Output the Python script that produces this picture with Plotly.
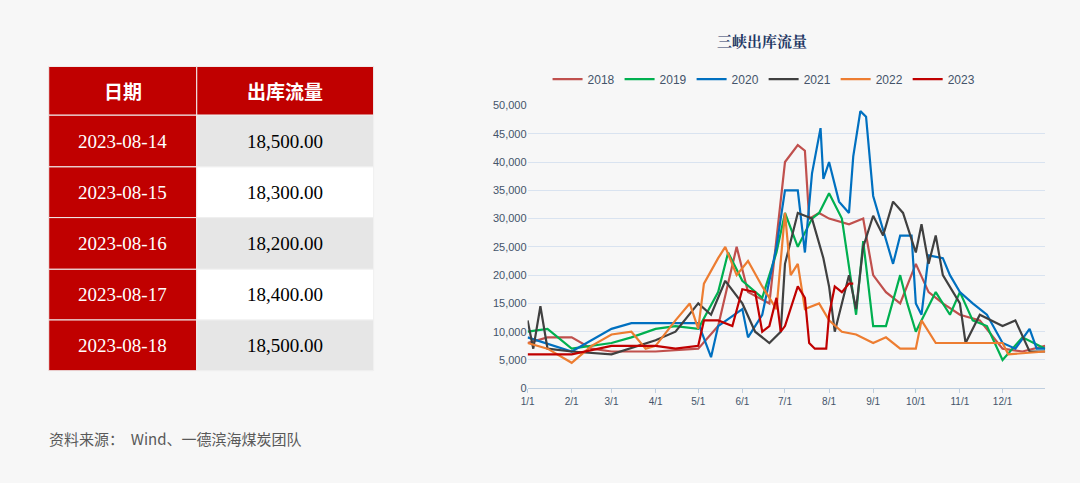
import plotly.graph_objects as go

dates = ['2023-08-14', '2023-08-15', '2023-08-16', '2023-08-17', '2023-08-18']
flows = ['18,500.00', '18,300.00', '18,200.00', '18,400.00', '18,500.00']
headers = ['日期', '出库流量']

s2018_x = ['01-01','01-15','02-01','02-15','03-01','04-01','05-01','05-15','05-28','06-05','06-20','07-01','07-10','07-15','07-18','07-25','08-01','08-15','08-25','09-01','09-10','09-20','10-01','10-10','10-20','11-01','11-15','12-01','12-15','12-31']
s2018_y = [8000,9000,9000,7000,6500,6500,7000,11000,25000,17000,15000,40000,43000,42000,30000,31000,30000,29000,30000,20000,17000,15000,22000,17000,15000,13000,12000,7000,6500,7500]

s2019_x = ['01-01','01-15','02-01','03-01','03-15','04-01','04-15','05-01','05-15','05-22','06-01','06-15','06-25','07-01','07-10','07-20','07-25','08-01','08-10','08-20','08-25','09-01','09-10','09-20','09-25','10-01','10-15','10-25','11-01','11-10','11-20','12-01','12-15','12-31']
s2019_y = [10000,10500,7000,8000,9000,10500,11000,10500,17000,24000,19000,16000,24000,31000,25000,30000,31000,34500,30000,13000,26000,11000,11000,20000,15000,10000,17000,13000,17000,12000,11000,5000,9000,7000]

s2020_x = ['01-01','02-01','03-01','03-15','04-01','05-01','05-10','05-15','06-01','06-05','06-15','06-25','07-01','07-10','07-15','07-20','07-26','07-28','08-01','08-08','08-15','08-18','08-23','08-27','09-01','09-08','09-15','09-20','09-28','10-01','10-05','10-10','10-20','10-25','11-01','11-10','11-20','12-01','12-10','12-20','12-25','12-31']
s2020_y = [9000,6500,10500,11500,11500,11500,5500,11000,14000,9000,13000,25000,35000,35000,24000,38000,46000,37000,40000,33000,31000,41000,49000,48000,34000,28000,22000,27000,27000,15000,13000,23500,23000,20000,17000,15000,13000,8000,7000,10500,7000,7000]

s2021_x = ['01-01','01-05','01-10','01-15','02-01','03-01','04-01','04-15','05-01','05-10','05-20','06-01','06-10','06-20','06-28','07-01','07-10','07-20','07-28','08-01','08-05','08-15','08-20','08-25','09-01','09-08','09-15','09-22','10-01','10-05','10-10','10-15','10-20','11-01','11-05','11-15','12-01','12-10','12-20','12-31']
s2021_y = [12000,7000,14500,7000,6500,6000,8500,10000,15000,13000,19000,15000,10000,8000,10000,22000,31000,30000,23000,18000,10000,20000,14000,25000,30500,27000,33000,31000,24000,29000,22000,27000,20000,15000,8000,13000,11000,12000,6500,6500]

s2022_x = ['01-01','01-15','02-01','02-15','03-01','03-15','03-25','04-01','04-15','04-25','05-01','05-05','05-15','05-20','05-28','06-05','06-15','06-25','07-01','07-05','07-10','07-15','07-25','08-01','08-10','08-20','09-01','09-10','09-20','10-01','10-05','10-15','11-01','12-01','12-05','12-31']
s2022_y = [8000,7000,4500,7500,9500,10000,7000,7500,12000,15000,10500,18500,23000,25000,20000,22500,18000,14000,31000,20000,22000,14000,15000,12000,10000,9500,8000,9000,7000,7000,12000,8000,8000,8000,6000,6500]

s2023_x = ['01-01','02-01','03-01','04-01','04-15','05-01','05-05','05-15','05-25','06-01','06-10','06-15','06-20','06-25','06-28','07-01','07-10','07-15','07-18','07-22','07-30','08-01','08-05','08-10','08-15','08-18']
s2023_y = [6000,6000,7500,7500,7000,7500,12000,12000,11000,17500,17000,10000,11000,16000,10000,11000,18000,16000,8000,7000,7000,13000,18000,17000,18500,18500]

series = [
    ('2018', s2018_x, s2018_y, '#c0504d'),
    ('2019', s2019_x, s2019_y, '#00b050'),
    ('2020', s2020_x, s2020_y, '#0070c0'),
    ('2021', s2021_x, s2021_y, '#404040'),
    ('2022', s2022_x, s2022_y, '#ed7d31'),
    ('2023', s2023_x, s2023_y, '#c00000'),
]

fig = go.Figure()

for name, xs, ys, c in series:
    fig.add_trace(go.Scatter(x=['2023-' + d for d in xs], y=ys, name=name, mode='lines',
                             line=dict(color=c, width=2.2)))

# table drawn with shapes + text
W, H = 1080, 483
col_x = [42, 191, 369]
row_y = [62, 112, 165, 217, 270, 322, 374]
shapes, annos = [], []

def px(x): return x / W
def py(y): return 1 - y / H

for r in range(6):
    for c in range(2):
        if r == 0 or c == 0:
            fill = '#c00000'
        else:
            fill = '#e6e6e6' if r % 2 == 1 else '#ffffff'
        shapes.append(dict(type='rect', xref='paper', yref='paper',
                           x0=px(col_x[c]), x1=px(col_x[c + 1]),
                           y0=py(row_y[r + 1]), y1=py(row_y[r]),
                           fillcolor=fill, line=dict(color='#f0f0f0', width=1), layer='below'))
        if r == 0:
            txt, font = '<b>%s</b>' % headers[c], dict(size=19, color='white', family='Noto Sans CJK SC')
        else:
            txt = dates[r - 1] if c == 0 else flows[r - 1]
            font = dict(size=19, color='white' if c == 0 else 'black', family='Liberation Serif')
        annos.append(dict(text=txt, xref='paper', yref='paper', showarrow=False,
                          x=px((col_x[c] + col_x[c + 1]) / 2), y=py((row_y[r] + row_y[r + 1]) / 2),
                          xanchor='center', yanchor='middle', font=font))

annos.append(dict(text='资料来源：  Wind、一德滨海煤炭团队', x=px(40), y=py(444),
                  xref='paper', yref='paper', xanchor='left', yanchor='middle', showarrow=False,
                  font=dict(size=15, color='#595959', family='Noto Sans CJK SC')))

tick_font = dict(size=11, color='#44546a', family='Liberation Sans')
fig.update_layout(
    width=W, height=H,
    paper_bgcolor='#f7f7f7', plot_bgcolor='#f7f7f7',
    margin=dict(l=0, r=0, t=0, b=0),
    title=dict(text='<b>三峡出库流量</b>', x=px(762), xanchor='center', y=py(42), yanchor='middle',
               font=dict(size=15, color='#1f3864', family='Noto Serif CJK SC, Noto Sans CJK SC')),
    legend=dict(orientation='h', x=px(762), xanchor='center', y=py(75), yanchor='middle',
                font=dict(size=12, color='#44546a', family='Liberation Sans'),
                bgcolor='rgba(0,0,0,0)'),
    xaxis=dict(domain=[px(524), px(1045)], type='date', range=['2023-01-01', '2023-12-31'],
               tickvals=['2023-%02d-01' % m for m in range(1, 13)],
               ticktext=['%d/1' % m for m in range(1, 13)],
               tickfont=dict(size=10, color='#44546a', family='Liberation Sans'),
               showgrid=False, showline=True, linecolor='#bfcfe0', ticks='outside',
               tickcolor='#bfcfe0', ticklen=4),
    yaxis=dict(domain=[py(392), py(102)], range=[0, 50000], dtick=5000, tickformat=',',
               tickfont=tick_font, gridcolor='#d9e3f0', zeroline=False),
    shapes=shapes, annotations=annos,
)

fig.write_html("out.html", config={'displayModeBar': False},
               post_script="document.body.style.margin='0';document.body.style.background='#f7f7f7';")
